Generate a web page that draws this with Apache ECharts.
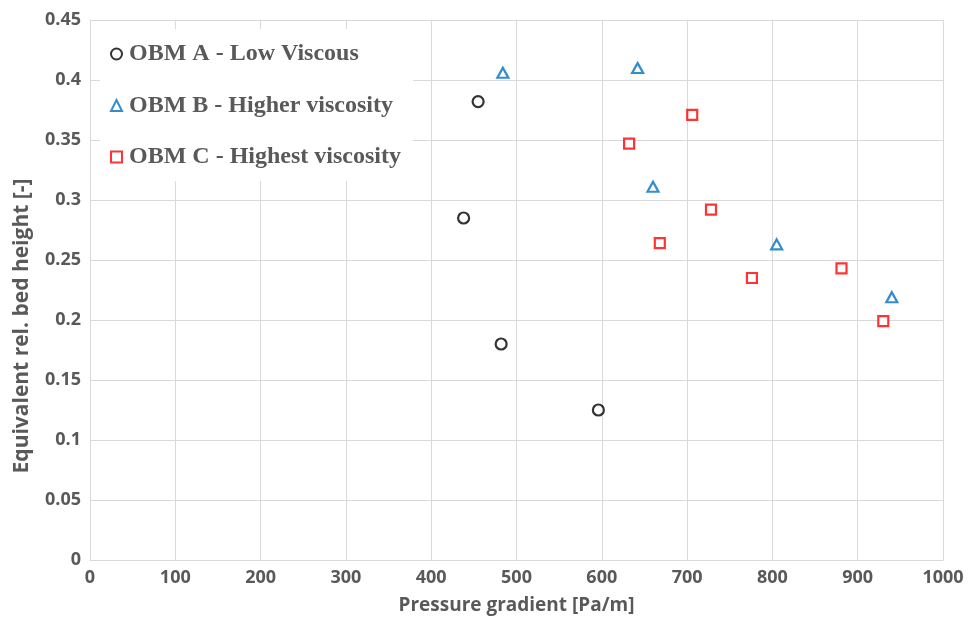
<!DOCTYPE html>
<html><head><meta charset="utf-8">
<script src="https://cdn.jsdelivr.net/npm/echarts@6/dist/echarts.min.js"></script>
<style>html,body{margin:0;padding:0;background:#fff}#c{width:968px;height:624px}</style>
</head><body><div id="c"></div>
<script>
const seriesNames = ['OBM A - Low Viscous', 'OBM B - Higher viscosity', 'OBM C - Highest viscosity'];
const obmA = [[455, 0.382], [438, 0.285], [482, 0.180], [596, 0.125]];
const obmB = [[484, 0.406], [642, 0.410], [660, 0.311], [805, 0.263], [940, 0.219]];
const obmC = [[706, 0.371], [632, 0.347], [728, 0.292], [668, 0.264], [776, 0.235], [881, 0.243], [930, 0.199]];
const xTitle = 'Pressure gradient [Pa/m]';
const yTitle = 'Equivalent rel. bed height [-]';

const chart = echarts.init(document.getElementById('c'));
const labelFont = {color: '#595959', fontWeight: 'bold', fontFamily: 'Open Sans', fontSize: 18};
chart.setOption({
  animation: false,
  backgroundColor: '#fff',
  grid: {left: 90, right: 25, top: 20, bottom: 64},
  graphic: [{
    type: 'text', x: 22, y: 326, rotation: Math.PI / 2,
    style: {text: yTitle, fill: '#595959', fontWeight: 'bold', fontFamily: 'Open Sans', fontSize: 21,
      align: 'center', verticalAlign: 'middle'}
  }],
  xAxis: {
    type: 'value', min: 0, max: 1000, interval: 100,
    name: xTitle, nameLocation: 'middle', nameGap: 36,
    nameTextStyle: {color: '#595959', fontWeight: 'bold', fontFamily: 'Open Sans', fontSize: 19},
    axisLine: {show: true, lineStyle: {color: '#d9d9d9'}},
    axisTick: {show: false},
    axisLabel: Object.assign({margin: 9, formatter: v => String(v)}, labelFont),
    splitLine: {show: true, lineStyle: {color: '#d9d9d9', width: 1}}
  },
  yAxis: {
    type: 'value', min: 0, max: 0.45, interval: 0.05,
    axisLine: {show: true, lineStyle: {color: '#d9d9d9'}},
    axisTick: {show: false},
    axisLabel: Object.assign({margin: 9, formatter: v => String(+v.toFixed(2))}, labelFont),
    splitLine: {show: true, lineStyle: {color: '#d9d9d9', width: 1}}
  },
  legend: {
    orient: 'vertical', left: 100, top: 29,
    backgroundColor: '#fff',
    padding: [13, 12, 12, 10],
    itemGap: 27.5, itemWidth: 11, itemHeight: 11,
    textStyle: {color: '#595959', fontWeight: 'bold', fontFamily: 'Liberation Serif', fontSize: 24, padding: [0, 0, 0, 2]},
    data: seriesNames
  },
  series: [
    {name: seriesNames[0], type: 'scatter', data: obmA, symbol: 'circle', symbolSize: 11,
      itemStyle: {color: '#fff', borderColor: '#000', borderWidth: 2.2}},
    {name: seriesNames[1], type: 'scatter', data: obmB, symbol: 'triangle', symbolSize: [11, 10],
      itemStyle: {color: '#fff', borderColor: '#0070C0', borderWidth: 2.2}},
    {name: seriesNames[2], type: 'scatter', data: obmC, symbol: 'rect', symbolSize: 10,
      itemStyle: {color: '#fff', borderColor: '#FF0000', borderWidth: 2.2}}
  ]
});
</script></body></html>
